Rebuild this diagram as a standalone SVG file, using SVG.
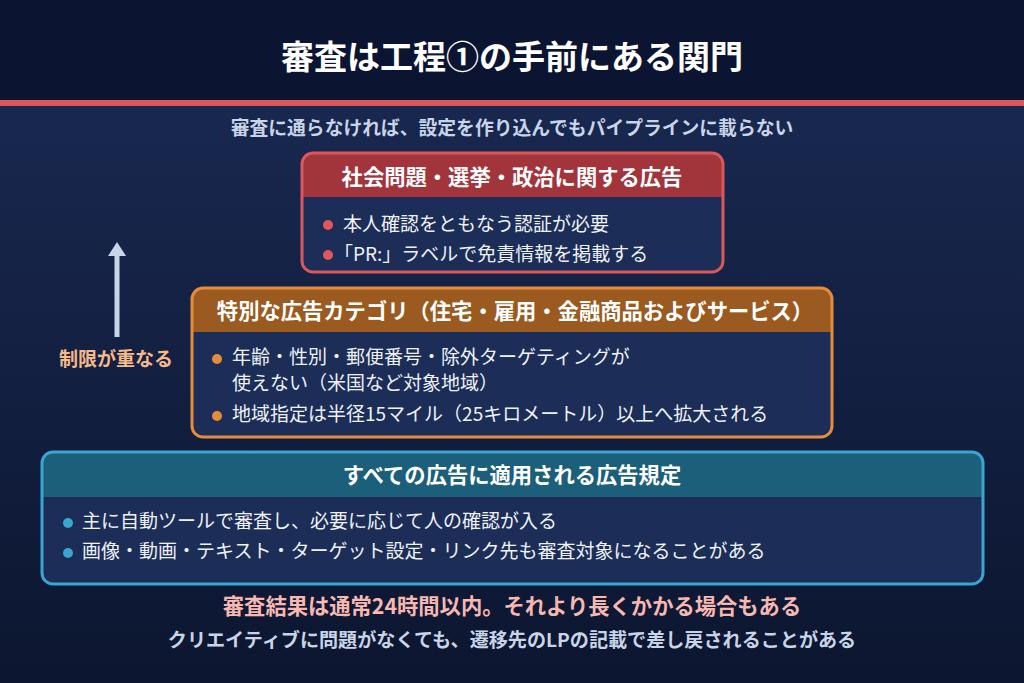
<svg xmlns="http://www.w3.org/2000/svg" width="1024" height="683" viewBox="0 0 1024 683">
<defs>
<linearGradient id="bg" x1="0" y1="0" x2="0" y2="1">
<stop offset="0" stop-color="#1b2b55"/>
<stop offset="1" stop-color="#0c1630"/>
</linearGradient>
<marker id="ah" markerWidth="14" markerHeight="18" refX="1" refY="9" orient="auto" markerUnits="userSpaceOnUse" viewBox="0 0 14 18">
<path d="M0,0 L14,9 L0,18 Z" fill="#c8d4e8"/>
</marker>
<clipPath id="c1"><rect x="302" y="153" width="421" height="119" rx="11"/></clipPath>
<clipPath id="c2"><rect x="192" y="288" width="640" height="149" rx="11"/></clipPath>
<clipPath id="c3"><rect x="42" y="452" width="941" height="132" rx="11"/></clipPath>
</defs>
<style>
text{font-family:"Noto Sans CJK JP","Noto Sans",sans-serif;}
.b{font-weight:700;}
.hd{font-weight:700;font-size:21.3px;fill:#ffffff;text-anchor:middle;}
.it{font-size:19px;fill:#eef2fa;}
.body{fill:#1c2d57;}
</style>
<rect x="0" y="0" width="1024" height="683" fill="url(#bg)"/>
<rect x="0" y="0" width="1024" height="100" fill="#0b1430"/>
<rect x="0" y="100" width="1024" height="6" fill="#d9585c"/>
<text x="512" y="69" class="b" font-size="33" fill="#ffffff" text-anchor="middle">審査は工程①の手前にある関門</text>
<text x="512" y="135" class="b" font-size="18.8" fill="#c8d4e8" text-anchor="middle">審査に通らなければ、設定を作り込んでもパイプラインに載らない</text>

<g id="connectors">
<line x1="117" y1="337" x2="117" y2="255" stroke="#c8d4e8" stroke-width="5" marker-end="url(#ah)"/>
</g>
<g id="label-restrict">
<text x="116" y="366" class="b" font-size="19" fill="#f5b98a" text-anchor="middle">制限が重なる</text>
</g>

<g id="box-political">
<g clip-path="url(#c1)">
<rect x="302" y="153" width="421" height="119" class="body"/>
<rect x="302" y="153" width="421" height="44" fill="#a2343b"/>
</g>
<rect x="302" y="153" width="421" height="119" rx="11" fill="none" stroke="#d9585c" stroke-width="3"/>
<text x="512" y="185" class="hd">社会問題・選挙・政治に関する広告</text>
<circle cx="328" cy="225" r="5" fill="#e0585c"/>
<text x="343" y="231" class="it">本人確認をともなう認証が必要</text>
<circle cx="328" cy="255" r="5" fill="#e0585c"/>
<text x="334" y="261" class="it">「PR:」ラベルで免責情報を掲載する</text>
</g>

<g id="box-special">
<g clip-path="url(#c2)">
<rect x="192" y="288" width="640" height="149" class="body"/>
<rect x="192" y="288" width="640" height="44" fill="#9b5a20"/>
</g>
<rect x="192" y="288" width="640" height="149" rx="11" fill="none" stroke="#e58c3c" stroke-width="3"/>
<text x="515" y="319" class="hd" font-size="21.6">特別な広告カテゴリ（住宅・雇用・金融商品およびサービス）</text>
<circle cx="217" cy="359" r="5" fill="#e58c3c"/>
<text x="232" y="364" class="it">年齢・性別・郵便番号・除外ターゲティングが</text>
<text x="232" y="390" class="it">使えない（米国など対象地域）</text>
<circle cx="217" cy="416" r="5" fill="#e58c3c"/>
<text x="232" y="421" class="it">地域指定は半径15マイル（25キロメートル）以上へ拡大される</text>
</g>

<g id="box-all">
<g clip-path="url(#c3)">
<rect x="42" y="452" width="941" height="132" class="body"/>
<rect x="42" y="452" width="941" height="45" fill="#1b5f7b"/>
</g>
<rect x="42" y="452" width="941" height="132" rx="11" fill="none" stroke="#3ba4d0" stroke-width="3"/>
<text x="512" y="483" class="hd">すべての広告に適用される広告規定</text>
<circle cx="68" cy="523" r="5" fill="#3ba4d0"/>
<text x="82" y="528" class="it">主に自動ツールで審査し、必要に応じて人の確認が入る</text>
<circle cx="68" cy="553" r="5" fill="#3ba4d0"/>
<text x="82" y="558" class="it">画像・動画・テキスト・ターゲット設定・リンク先も審査対象になることがある</text>
</g>

<text x="512" y="614" class="b" font-size="21.3" fill="#f7b8b2" text-anchor="middle">審査結果は通常24時間以内。それより長くかかる場合もある</text>
<text x="512" y="647" class="b" font-size="19.1" fill="#c8d4e8" text-anchor="middle">クリエイティブに問題がなくても、遷移先のLPの記載で差し戻されることがある</text>
</svg>
